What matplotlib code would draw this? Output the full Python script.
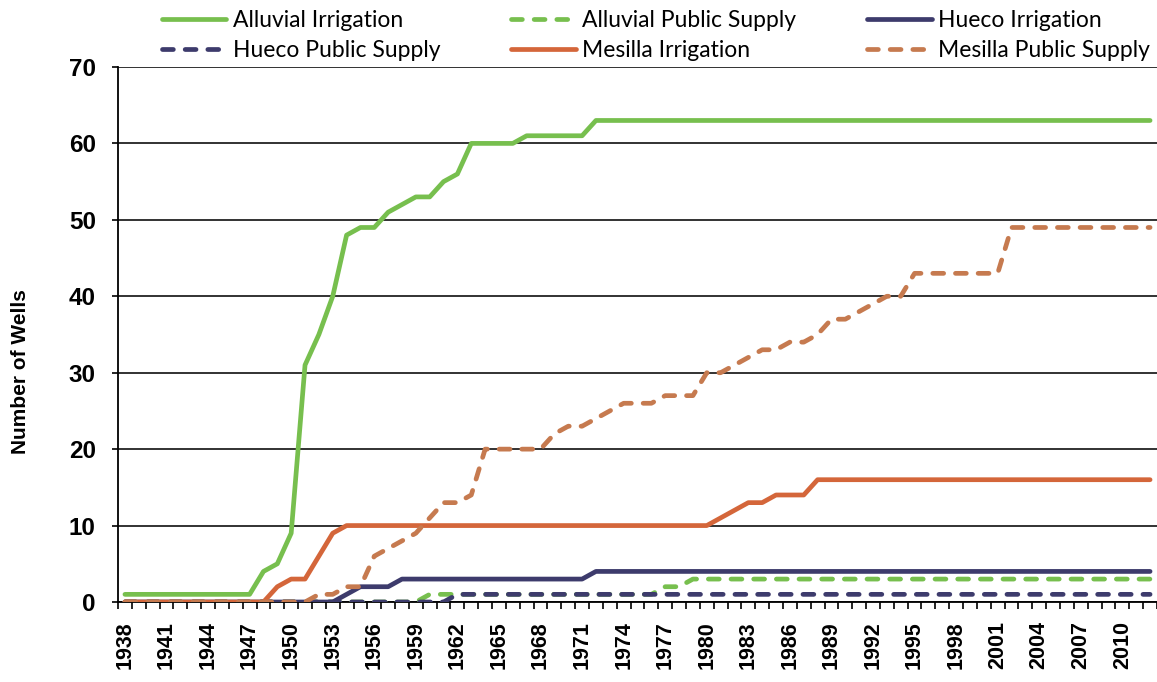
import numpy as np
import matplotlib
matplotlib.use('Agg')
import matplotlib.pyplot as plt
from matplotlib.ticker import FixedLocator

# well counts per year, 1938-2012
years = list(range(1938, 2013))

alluvial_irr = [1, 1, 1, 1, 1, 1, 1, 1, 1, 1,
                4, 5, 9, 31, 35, 40, 48, 49, 49, 51,
                52, 53, 53, 55, 56, 60, 60, 60, 60, 61,
                61, 61, 61, 61] + [63] * 41
alluvial_ps = [0] * 22 + [1] * 17 + [2, 2] + [3] * 34
hueco_irr = [0] * 16 + [1, 2, 2, 2] + [3] * 14 + [4] * 41
hueco_ps = [0] * 24 + [1] * 51
mesilla_irr = [0] * 11 + [2, 3, 3, 6, 9] + [10] * 27 + \
              [11, 12, 13, 13, 14, 14, 14] + [16] * 25
mesilla_ps = [0] * 14 + [1, 1, 2, 2, 6, 7, 8, 9, 11, 13, 13, 14] + [20] * 5 + \
             [22, 23, 23, 24, 25, 26, 26, 26, 27, 27, 27, 30, 30, 31, 32,
              33, 33, 34, 34, 35, 37, 37, 38, 39, 40, 40] + [43] * 7 + [49] * 11

labels = ['Alluvial Irrigation', 'Alluvial Public Supply', 'Hueco Irrigation',
          'Hueco Public Supply', 'Mesilla Irrigation', 'Mesilla Public Supply']

green = '#77BF4E'
navy = '#3D3B6C'
red_or = '#D4663A'
brown_or = '#C67A4F'

series = [(alluvial_irr, green, '-'),
          (alluvial_ps, green, '--'),
          (hueco_irr, navy, '-'),
          (hueco_ps, navy, '--'),
          (mesilla_irr, red_or, '-'),
          (mesilla_ps, brown_or, '--')]

fig = plt.figure(figsize=(11.57, 6.82), dpi=100)
ax = fig.add_axes([0.102, 0.1173, 0.898, 0.7845])

handles = []
for (vals, col, ls), lab in zip(series, labels):
    if ls == '--':
        h, = ax.plot(years, vals, color=col, lw=3.4, dashes=(2.3, 2.5),
                     dash_capstyle='round', solid_joinstyle='round', label=lab, zorder=3)
    else:
        h, = ax.plot(years, vals, color=col, lw=3.4, solid_capstyle='round',
                     solid_joinstyle='round', label=lab, zorder=3)
    handles.append(h)

ax.set_xlim(1937.5, 2012.5)
ax.set_ylim(0, 70)
ax.set_yticks(range(0, 71, 10))
ax.yaxis.grid(True, color='#222222', lw=1.3)
ax.set_axisbelow(True)

lab_years = list(range(1938, 2011, 3))
ax.xaxis.set_major_locator(FixedLocator(lab_years))
ax.xaxis.set_minor_locator(FixedLocator(np.arange(1937.5, 2013, 1.0)))
ax.set_xticklabels([str(y) for y in lab_years], rotation=90, fontsize=15.5,
                   fontweight='bold', family='Liberation Sans')
ax.tick_params(axis='x', which='major', length=0, pad=14)
ax.tick_params(axis='x', which='minor', length=5, width=1.2, direction='out')
ax.tick_params(axis='y', length=4, width=1.2, direction='out', pad=12)
for t in ax.get_yticklabels():
    t.set_fontweight('bold')
    t.set_family('Liberation Sans')
    t.set_fontsize(17.5)

for s in ['top', 'right']:
    ax.spines[s].set_visible(False)
ax.spines['left'].set_linewidth(1.3)
ax.spines['bottom'].set_linewidth(1.3)

ax.set_ylabel('Number of Wells', fontsize=15, fontweight='bold', family='Liberation Sans')
ax.yaxis.set_label_coords(-0.085, 0.43)

# legend filled column-wise, so reorder to read across rows
order = [0, 3, 1, 4, 2, 5]
fig.legend([handles[i] for i in order], [labels[i] for i in order],
           ncol=3, loc='upper left', bbox_to_anchor=(0.122, 1.0155), frameon=False,
           prop={'family': 'Lato', 'size': 16.5}, handlelength=2.8,
           handletextpad=0.3, columnspacing=3.1, labelspacing=0.37)

fig.savefig('out.png', dpi=100)
